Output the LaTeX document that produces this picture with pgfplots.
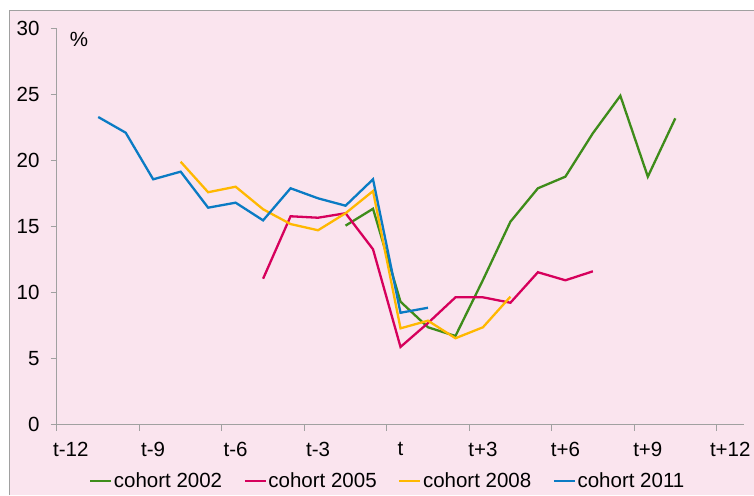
\documentclass[border=0pt]{standalone}
\usepackage{pgfplots}
\pgfplotsset{compat=1.18}
\usepackage{fontspec}
\setmainfont{Liberation Sans}
\definecolor{bgpink}{RGB}{250,228,238}
\definecolor{axgray}{RGB}{160,160,160}
\definecolor{cgreen}{RGB}{62,140,26}
\definecolor{cred}{RGB}{214,0,92}
\definecolor{cyellow}{RGB}{255,184,0}
\definecolor{cblue}{RGB}{10,123,196}
\begin{document}
\begin{tikzpicture}
\useasboundingbox (-57pt,-70.3pt) rectangle (697pt,424.7pt);
\fill[bgpink] (-47pt,-70.3pt) rectangle (697pt,413.7pt);
\draw[axgray, line width=1pt] (-47pt,-70.3pt) -- (-47pt,413.7pt) -- (697pt,413.7pt);
\begin{axis}[
  at={(0pt,0pt)}, anchor=south west,
  scale only axis, width=687pt, height=396pt,
  xmin=-12.5, xmax=12.5, ymin=0, ymax=30,
  axis lines*=left, axis line style={axgray, line width=1pt, -},
  tick align=outside, major tick length=6pt,
  tick style={axgray, line width=1pt},
  xtick={-12.5,-9.5,-6.5,-3.5,-0.5,2.5,5.5,8.5,11.5},
  xticklabels={},
  extra x ticks={-12,-9,-6,-3,0,3,6,9,12},
  extra x tick labels={t-12,t-9,t-6,t-3,t,t+3,t+6,t+9,t+12},
  extra x tick style={major tick length=0pt},
  xticklabel style={yshift=-14pt},
  yticklabel style={xshift=-8pt},
  ytick={0,5,...,30},
  font=\fontsize{20.5}{24}\selectfont,
  /pgf/number format/assume math mode=true,
  ticklabel style={font=\fontsize{20.5}{24}\selectfont},
  legend columns=4,
  legend style={draw=none, fill=none, at={(0.481,-0.1414)}, anchor=center,
    font=\fontsize{20.5}{24}\selectfont,
    /tikz/every even column/.append style={column sep=20pt},
    nodes={inner xsep=1.5pt, inner ysep=0pt}},
  legend image code/.code={\draw[#1] (0pt,0pt) -- (21pt,0pt);},
  every axis plot/.append style={line width=2.3pt, line join=miter},
  clip=false,
]
\addplot[cgreen] coordinates {(-2,15.08) (-1,16.36) (0,9.32) (1,7.38) (2,6.72) (3,10.96) (4,15.38) (5,17.91) (6,18.79) (7,22.08) (8,24.92) (9,18.79) (10,23.21)};
\addlegendentry{cohort 2002}
\addplot[cred] coordinates {(-5,11.06) (-4,15.79) (-3,15.68) (-2,16.02) (-1,13.29) (0,5.89) (1,7.7) (2,9.65) (3,9.65) (4,9.24) (5,11.55) (6,10.94) (7,11.62)};
\addlegendentry{cohort 2005}
\addplot[cyellow] coordinates {(-8,19.92) (-7,17.61) (-6,18.03) (-5,16.32) (-4,15.20) (-3,14.73) (-2,16.02) (-1,17.70) (0,7.30) (1,7.88) (2,6.55) (3,7.38) (4,9.70)};
\addlegendentry{cohort 2008}
\addplot[cblue] coordinates {(-11,23.31) (-10,22.12) (-9,18.59) (-8,19.17) (-7,16.44) (-6,16.82) (-5,15.48) (-4,17.91) (-3,17.15) (-2,16.59) (-1,18.59) (0,8.48) (1,8.86)};
\addlegendentry{cohort 2011}
\node at (axis cs:-11.7,29.2) {\%};
\end{axis}
\end{tikzpicture}
\end{document}
